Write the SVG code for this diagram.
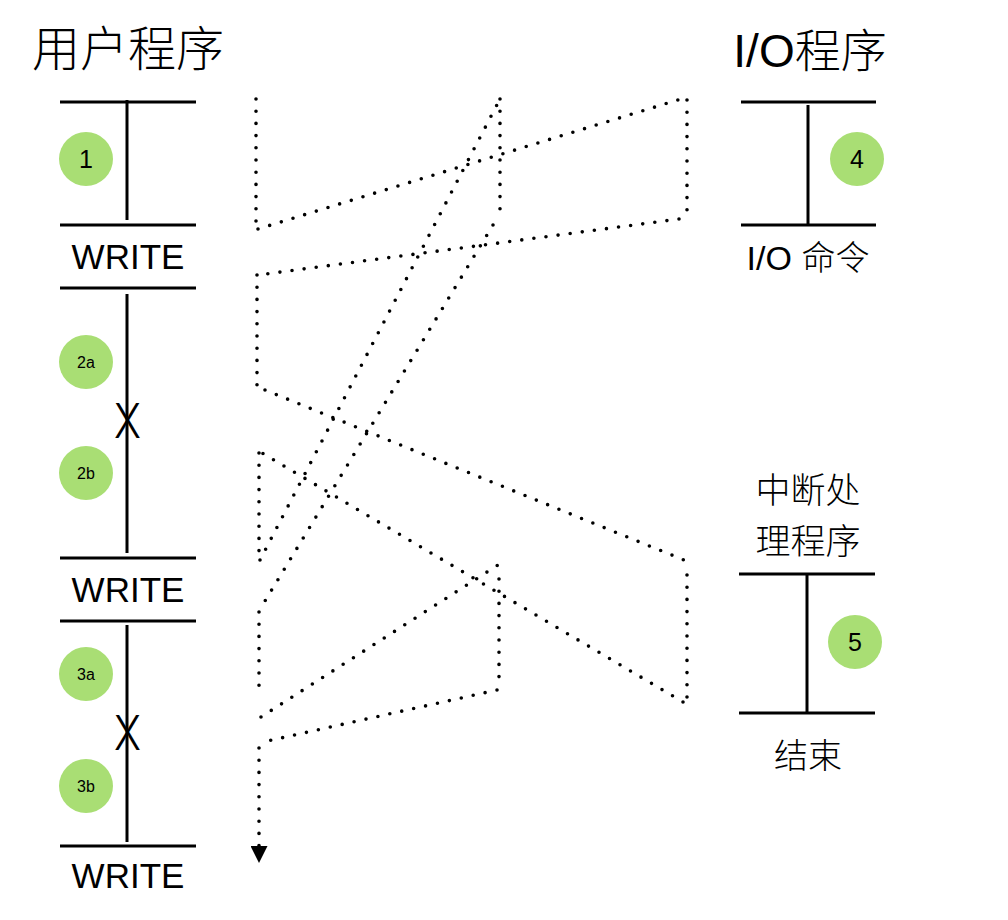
<svg xmlns="http://www.w3.org/2000/svg" width="1008" height="920" viewBox="0 0 1008 920">
<defs>
<style>
.bar{stroke:#000;stroke-width:3;fill:none}
.dot{stroke:#000;stroke-width:3.6;stroke-linecap:round;stroke-dasharray:0 12.2;fill:none}
.c{fill:#a9de74}
.t{font-family:"Liberation Sans","Noto Sans CJK SC",sans-serif;fill:#000;text-anchor:middle}
.cjk{font-weight:300}
.n1{font-size:25px}
.n2{font-size:16px}
.w{font-size:35px}
.x{font-family:Inter,"Liberation Sans",sans-serif;font-weight:300;font-size:48px;fill:#000;text-anchor:middle}
</style>
<marker id="arr" markerUnits="userSpaceOnUse" viewBox="0 0 17 17" refX="0" refY="8.5" markerWidth="17" markerHeight="17" orient="auto">
<path d="M0,0 L17,8.5 L0,17 Z" fill="#000"/>
</marker>
</defs>
<rect width="1008" height="920" fill="#fff"/>

<g id="title-user"><text class="t cjk" x="128" y="66" font-size="48">用户程序</text></g>
<g id="title-io"><text class="t cjk" x="810" y="67" font-size="46">I/O程序</text></g>

<g id="user-seg1">
<line class="bar" x1="60" y1="102" x2="196" y2="102"/>
<line class="bar" x1="127" y1="100" x2="127" y2="220"/>
<line class="bar" x1="60" y1="225" x2="196" y2="225"/>
<circle class="c" cx="86" cy="159" r="27"/>
<text class="t n1" x="86" y="168">1</text>
</g>
<g id="write1"><text class="t w" x="128" y="269">WRITE</text></g>

<g id="user-seg2">
<line class="bar" x1="60" y1="288" x2="196" y2="288"/>
<line class="bar" x1="127" y1="294" x2="127" y2="553"/>
<line class="bar" x1="60" y1="558" x2="196" y2="558"/>
<circle class="c" cx="86" cy="362" r="27"/>
<text class="t n2" x="86" y="368">2a</text>
<circle class="c" cx="86" cy="473" r="27"/>
<text class="t n2" x="86" y="479">2b</text>
<text class="x" x="127.5" y="437.5" textLength="27" lengthAdjust="spacingAndGlyphs">X</text>
</g>
<g id="write2"><text class="t w" x="128" y="602">WRITE</text></g>

<g id="user-seg3">
<line class="bar" x1="60" y1="621" x2="196" y2="621"/>
<line class="bar" x1="127" y1="625" x2="127" y2="842"/>
<line class="bar" x1="60" y1="846" x2="196" y2="846"/>
<circle class="c" cx="86" cy="674" r="27"/>
<text class="t n2" x="86" y="680">3a</text>
<circle class="c" cx="86" cy="786" r="27"/>
<text class="t n2" x="86" y="792">3b</text>
<text class="x" x="127.5" y="749.5" textLength="27" lengthAdjust="spacingAndGlyphs">X</text>
</g>
<g id="write3"><text class="t w" x="128" y="888">WRITE</text></g>

<g id="io-prog">
<line class="bar" x1="741" y1="102" x2="876" y2="102"/>
<line class="bar" x1="808" y1="105" x2="808" y2="225"/>
<line class="bar" x1="741" y1="225" x2="876" y2="225"/>
<circle class="c" cx="857" cy="159" r="27"/>
<text class="t n1" x="857" y="168">4</text>
<text class="t cjk" x="808" y="270" font-size="34">I/O 命令</text>
</g>

<g id="int-handler">
<text class="t cjk" x="808" y="503" font-size="35">中断处</text>
<text class="t cjk" x="808" y="554" font-size="35">理程序</text>
<line class="bar" x1="739" y1="574" x2="875" y2="574"/>
<line class="bar" x1="807" y1="574" x2="807" y2="713"/>
<line class="bar" x1="739" y1="713" x2="875" y2="713"/>
<circle class="c" cx="855" cy="642" r="27"/>
<text class="t n1" x="855" y="651">5</text>
<text class="t cjk" x="808" y="768" font-size="34">结束</text>
</g>

<g id="connectors">
<line class="dot" x1="256" y1="99" x2="256" y2="222"/>
<line class="dot" x1="258" y1="229" x2="681" y2="99"/>
<line class="dot" x1="687" y1="100" x2="687" y2="211"/>
<line class="dot" x1="679" y1="219" x2="258" y2="275"/>
<line class="dot" x1="257" y1="275" x2="257" y2="385"/>
<line class="dot" x1="265" y1="390" x2="684" y2="560"/>
<line class="dot" x1="687" y1="575" x2="687" y2="698"/>
<line class="dot" x1="683" y1="702" x2="262" y2="453"/>
<line class="dot" x1="259" y1="453" x2="259" y2="551"/>
<line class="dot" x1="260" y1="560" x2="500" y2="99"/>
<line class="dot" x1="500" y1="99" x2="500" y2="215"/>
<line class="dot" x1="493" y1="225" x2="265" y2="601"/>
<line class="dot" x1="259" y1="612" x2="259" y2="697"/>
<line class="dot" x1="261" y1="717" x2="498" y2="565"/>
<line class="dot" x1="499" y1="579" x2="499" y2="688"/>
<line class="dot" x1="497" y1="690" x2="263" y2="742"/>
<line class="dot" x1="259" y1="748" x2="259" y2="846" marker-end="url(#arr)"/>
</g>
</svg>
